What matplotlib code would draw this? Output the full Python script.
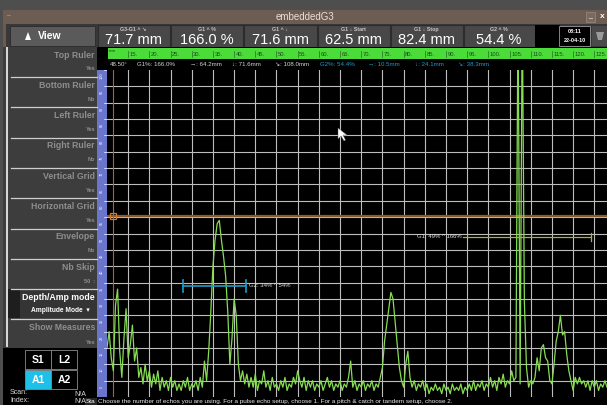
import numpy as np
import matplotlib
matplotlib.use('Agg')
import matplotlib.pyplot as plt
from matplotlib.patches import Rectangle, Polygon

W, H = 607, 405

# ---------------- data ----------------
trace_start_mm = 10.0
trace_step_mm = 0.5
amplitude_pct = [
    15, 20, 12, 8, 28, 33, 14, 6, 18, 27, 12, 16, 22, 11, 15, 6, 9, 4, 10, 5,
    8, 3, 7, 4, 8, 2, 6, 3, 5, 2, 6, 3, 5, 2, 4, 2, 5, 3, 6, 2,
    4, 3, 5, 2, 6, 3, 11, 5, 14, 26, 40, 48, 53, 54, 48, 43, 37, 26, 10, 18,
    30, 25, 10, 5, 8, 4, 7, 3,
    6, 3, 7, 2, 5, 4, 8, 3, 5, 2, 6, 3, 4, 2, 5, 3, 6, 2, 4, 3,
    6, 4, 8, 5, 3, 6, 2, 5, 3, 5, 2, 4, 3, 5, 2, 4, 6, 3, 5, 2,
    4, 3, 5, 2, 4, 3, 6, 11, 3, 5, 2, 4, 3, 5, 2, 4, 3, 5, 2, 4,
    3, 6,
    9, 17, 22, 27, 32, 30, 23, 16, 9, 5, 3, 10, 14, 6, 3,
    5, 2, 4, 3, 5, 2, 4, 1, 3, 2, 4, 2, 3, 1, 4, 2, 3, 1, 4, 2,
    3, 2, 4, 1, 3, 2, 4, 2, 5, 2, 4, 3, 5, 2, 4, 3, 6, 3, 5, 2,
    6, 4, 7, 3, 5, 4, 8, 5,
    6, 120, 4, 120, 29, 9, 3, 5, 4, 6, 12, 8, 15, 16, 12, 11, 5, 4, 10, 17,
    20, 25, 19, 20, 13, 8, 5, 2, 6, 4, 6, 4, 5, 3, 5, 2, 5, 3, 5, 2,
    4, 3, 5, 3,
]

x_min_mm, x_max_mm = 10.0, 128.0
ruler_mm_labels = list(range(15, 126, 5))
grid_pct = list(range(5, 100, 5))

header_labels = ["G3-G1 ^ \u2198", "G1 ^ %", "G1 ^ \u2193", "G1 \u2193 Start", "G1 \u2193 Stop", "G2 ^ %"]
header_values = ["71.7 mm", "166.0 %", "71.6 mm", "62.5 mm", "82.4 mm", "54.4 %"]

menu_titles = ["Top Ruler", "Bottom Ruler", "Left Ruler", "Right Ruler",
               "Vertical Grid", "Horizontal Grid", "Envelope", "Nb Skip"]
menu_values = ["Yes", "No", "Yes", "No", "Yes", "Yes", "No", "50  :"]

info_white = ["48.50\u00b0", "G1%: 166.0%", "\u2192: 64.2mm", "\u2193: 71.6mm", "\u2198: 108.0mm"]
info_cyan = ["G2%: 54.4%", "\u2192: 10.5mm", "\u2193: 24.1mm", "\u2198: 38.3mm"]

g1_start, g1_stop, g1_level, g1_label = 94.0, 124.2, 49, "G1: 49% ^ 166%"
g2_start, g2_stop, g2_level, g2_label = 27.9, 42.8, 34, "G2: 34% ^ 54%"
ref_level_pct = 55.5
ref_pos_mm = 11.4

status_text = ("Choose the number of echos you are using. For a pulse echo setup, "
               "choose 1. For a pitch & catch or tandem setup, choose 2.")

# ---------------- figure ----------------
FONT = 'Liberation Sans'
fig = plt.figure(figsize=(W / 100, H / 100), dpi=100)
fig.patch.set_facecolor('#4e4e4e')

bg = fig.add_axes([0, 0, 1, 1])
bg.set_xlim(0, W)
bg.set_ylim(H, 0)
bg.axis('off')


def rect(ax, x, y, w, h, fc, ec='none', lw=0, z=1):
    ax.add_patch(Rectangle((x, y), w, h, facecolor=fc, edgecolor=ec, linewidth=lw, zorder=z))


def txt(ax, x, y, s, size=6, color='white', ha='left', va='center', weight='normal', **kw):
    ax.text(x, y, s, fontsize=size, color=color, ha=ha, va=va, fontweight=weight,
            family=[FONT, 'DejaVu Sans'], **kw)


def px_of_mm(v):
    return 107 + (v - x_min_mm) * 500 / (x_max_mm - x_min_mm)


# window frame and title bar
rect(bg, 3, 10, W - 3, H - 10, '#6a5a50')
rect(bg, 3, 10, W - 3, 14, '#6d5c51')
txt(bg, 305, 17, "embeddedG3", size=7, color='#e8e0da', ha='center')
txt(bg, 7, 16, "\u2013", size=5, color='#b8a898')
rect(bg, 586, 12, 9, 10, '#7a6a5e', ec='#9a8a7e', lw=0.5, z=2)
txt(bg, 590, 16, "_", size=5, color='white', ha='center')
txt(bg, 602, 17, "x", size=6, color='white', ha='center', weight='bold')

# header row
rect(bg, 6, 24, W - 6, 23, '#383838')
rect(bg, 10, 26, 85, 20, '#5a5a5a', ec='#2a2a2a', lw=0.6, z=2)
bg.add_patch(Polygon([[28, 32], [25, 40], [31, 40]], closed=True, facecolor='white', zorder=3))
txt(bg, 50, 36, "View", size=7.5, weight='bold', ha='center')
box_edges = [97, 170, 243, 317, 390, 463, 535]
for i in range(6):
    x0, x1 = box_edges[i], box_edges[i + 1]
    rect(bg, x0 + 0.5, 25, x1 - x0 - 1, 22, '#484848', ec='#2c2c2c', lw=0.8, z=2)
    cx = (x0 + x1) / 2
    txt(bg, cx, 29.5, header_labels[i], size=3.8, color='#c8c8c8', ha='center', weight='bold')
    txt(bg, cx, 39.5, header_values[i], size=10.5, color='white', ha='center')
rect(bg, 535, 25, 25, 22, 'black', z=2)
rect(bg, 559, 26, 31, 20, 'black', ec='#9a9a9a', lw=0.6, z=2)
txt(bg, 574.5, 31.5, "08:11", size=4, color='white', ha='center', weight='bold')
txt(bg, 574.5, 40, "22-04-10", size=4, color='white', ha='center', weight='bold')
rect(bg, 592, 26, 15, 20, '#4a4a4a', z=2)
bg.add_patch(Polygon([[596, 32], [604, 32], [602, 40], [598, 40]], closed=True,
                     facecolor='#9a9a9a', zorder=3))

# left panel
rect(bg, 3, 47, 94, 303, '#3d3d3d', z=2)
rect(bg, 6, 47, 2.2, 300, '#d6d6d6', z=3)
rect(bg, 97, 47, 10, 23, 'black', z=2)
for i, (t, v) in enumerate(zip(menu_titles, menu_values)):
    ty = 55 + 30.3 * i
    txt(bg, 95, ty, t, size=6.3, color='#8e8e8e', ha='right', weight='bold', zorder=4)
    txt(bg, 95, ty + 14, v, size=4, color='#8e8e8e', ha='right', weight='bold', zorder=4)
    bg.plot([11, 97], [ty + 22, ty + 22], color='#cfcfcf', lw=0.9, zorder=4)
rect(bg, 8, 289, 89, 29, '#343434', z=3)
rect(bg, 8, 289, 12, 29, '#1e1e1e', z=3)
txt(bg, 95, 297, "Depth/Amp mode", size=6.3, color='white', ha='right', weight='bold', zorder=4)
txt(bg, 90, 311, "Amplitude Mode  \u25be", size=4.8, color='white', ha='right', weight='bold', zorder=4)
bg.plot([11, 97], [319, 319], color='#cfcfcf', lw=0.9, zorder=4)
txt(bg, 95, 327, "Show Measures", size=6.3, color='#8e8e8e', ha='right', weight='bold', zorder=4)
txt(bg, 95, 342, "Yes", size=4, color='#8e8e8e', ha='right', weight='bold', zorder=4)

# bottom-left black area with buttons
rect(bg, 3, 348, 94, 57, 'black', z=3)
for (bx, by, lab, fc) in [(25, 350, "S1", 'black'), (51, 350, "L2", 'black'),
                          (25, 370, "A1", '#1ec0e8'), (51, 370, "A2", 'black')]:
    rect(bg, bx, by, 26, 19, fc, ec='#8a8a8a', lw=0.6, z=4)
    txt(bg, bx + 13, by + 10, lab, size=7.5, color='white', ha='center', weight='bold', zorder=5)
txt(bg, 10, 393, "Scan:", size=5, color='#d8d8d8', zorder=5)
txt(bg, 80, 395, "N/A", size=5, color='#d8d8d8', ha='center', zorder=5)
txt(bg, 10, 401, "Index:", size=5, color='#d8d8d8', zorder=5)
txt(bg, 80, 401.5, "N/A", size=5, color='#d8d8d8', ha='center', zorder=5)

# top green ruler and info line
rect(bg, 97, 47, W - 97, 23, 'black', z=2)
rect(bg, 108, 47.5, W - 108, 11.5, '#4cdc3a', z=3)
txt(bg, 109, 50.5, "mm", size=3.2, color='#1c4a1c', zorder=4)
for v in ruler_mm_labels:
    xp = px_of_mm(v)
    bg.plot([xp, xp], [51, 57], color='#2a6a2a', lw=0.5, zorder=4)
    txt(bg, xp + 1.5, 54, f"{v}.", size=4.2, color='#1c4a1c', zorder=4)
info_x_white = [110, 137, 190, 232, 275]
info_x_cyan = [320, 368, 415, 458]
for s, xp in zip(info_white, info_x_white):
    txt(bg, xp, 65, s, size=4.4, color='#d4d4d4', zorder=4)
for s, xp in zip(info_cyan, info_x_cyan):
    txt(bg, xp, 65, s, size=4.4, color='#1f9cc8', zorder=4)

# left blue ruler
rect(bg, 97, 70, 10, 327, '#6a76cc', z=2)
for p in grid_pct + [100]:
    yp = 397 - p * 3.27
    bg.plot([104, 107], [yp, yp], color='white', lw=0.5, zorder=3)
    txt(bg, 101.5, yp + 6, f"{p}", size=2.8, color='white', ha='center', rotation=90, zorder=3)

# status bar
rect(bg, 97, 397, W - 97, 8, 'black', z=2)
rect(bg, 85, 398, 12, 7, '#262626', z=4)
txt(bg, 86, 401.5, "Sta", size=4.6, color='white', zorder=5)
txt(bg, 98, 401.5, status_text, size=4.6, color='#e8e8e8', zorder=3)

# ---------------- A-scan axes ----------------
ax = fig.add_axes([107 / W, (H - 397) / H, 500 / W, 327 / H])
ax.set_facecolor('black')
ax.set_xlim(x_min_mm, x_max_mm)
ax.set_ylim(0, 100)
ax.set_xticks(ruler_mm_labels)
ax.set_yticks(grid_pct)
ax.tick_params(length=0, labelbottom=False, labelleft=False)
ax.grid(True, color='#bdbdbd', lw=0.8)
ax.set_axisbelow(True)
for sp in ax.spines.values():
    sp.set_visible(False)

trace_mm = trace_start_mm + trace_step_mm * np.arange(len(amplitude_pct))
ax.plot(trace_mm, amplitude_pct, color='#86dc52', lw=0.9, zorder=3)

# reference cursor lines
ax.axhline(ref_level_pct, color='#8a5a2c', lw=1.6, zorder=2)
ax.axvline(ref_pos_mm, color='#b8602a', lw=0.8, zorder=2)
ax.plot([ref_pos_mm], [ref_level_pct], marker='s', ms=4, mfc='none', mec='#d07a30', mew=0.9, zorder=4)

# gates
ax.plot([g1_start, g1_stop], [g1_level, g1_level], color='#b0b032', lw=0.9, zorder=4)
ax.plot([g1_stop, g1_stop], [g1_level - 1.2, g1_level + 1.2], color='#b0b032', lw=0.9, zorder=4)
ax.text(g1_start - 0.3, g1_level, g1_label, fontsize=4.3, color='#e0e0e0', ha='right', va='center',
        family=[FONT, 'DejaVu Sans'], zorder=5)
ax.plot([g2_start, g2_stop], [g2_level, g2_level], color='#1f9cc8', lw=1.2, zorder=4)
for gx in (g2_start, g2_stop):
    ax.plot([gx, gx], [g2_level - 1.8, g2_level + 1.8], color='#1f9cc8', lw=1.2, zorder=4)
ax.text(g2_stop + 0.8, g2_level, g2_label, fontsize=4.3, color='#e0e0e0', ha='left', va='center',
        family=[FONT, 'DejaVu Sans'], zorder=5)

# mouse pointer overlay
top = fig.add_axes([0, 0, 1, 1])
top.set_xlim(0, W)
top.set_ylim(H, 0)
top.axis('off')
top.patch.set_alpha(0)
top.add_patch(Polygon([[338, 128], [338, 139], [341, 136], [344, 141], [345.5, 140], [343, 135], [347, 135]],
                      closed=True, facecolor='white', edgecolor='#555555', lw=0.3, zorder=10))

fig.savefig('out.png', dpi=100, facecolor=fig.get_facecolor())
